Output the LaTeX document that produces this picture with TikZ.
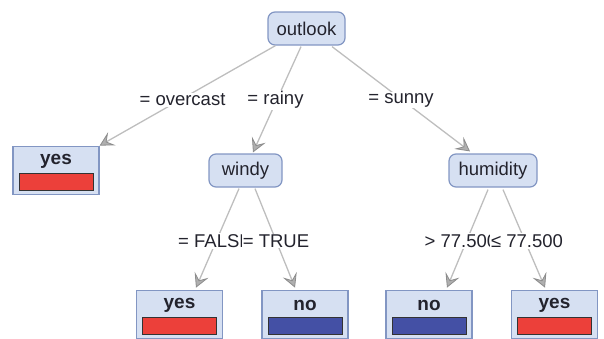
\documentclass[tikz,border=0pt]{standalone}
\usepackage{fontspec}
\setmainfont{Liberation Sans}
\usetikzlibrary{arrows.meta,calc}
\definecolor{nodefill}{RGB}{214,224,242}
\definecolor{nodedraw}{RGB}{130,150,195}
\definecolor{edgecol}{RGB}{190,190,190}
\definecolor{arrfill}{RGB}{175,175,175}
\definecolor{arrdraw}{RGB}{140,140,140}
\definecolor{barred}{RGB}{236,64,58}
\definecolor{barblue}{RGB}{68,80,165}
\definecolor{txt}{RGB}{35,35,45}
\tikzset{
  inner/.style={draw=nodedraw, fill=nodefill, line width=1.2pt, rounded corners=7pt,
    minimum height=33pt, inner sep=0pt, font=\fontsize{18.5}{20}\selectfont, text=txt},
  leaf/.style={draw=nodedraw, fill=nodefill, line width=1.2pt, minimum width=86pt,
    minimum height=48.5pt, inner sep=0pt},
  leaftxt/.style={font=\fontsize{19}{20}\selectfont\bfseries, text=txt, inner sep=0pt},
  redbar/.style={draw=black!80, fill=barred, line width=1pt, minimum width=74pt, minimum height=17pt, inner sep=0pt},
  bluebar/.style={draw=black!80, fill=barblue, line width=1pt, minimum width=74pt, minimum height=17pt, inner sep=0pt},
  edge/.style={draw=edgecol, line width=1.3pt,
    -{Stealth[length=14pt,width=15pt,inset=6pt,fill=arrfill,color=arrdraw,line width=0.8pt]}},
  elabel/.style={fill=white, inner sep=1pt, font=\fontsize{18.5}{20}\selectfont, text=txt},
}
\begin{document}
\begin{tikzpicture}[x=1pt,y=-1pt]
\useasboundingbox (0,0) rectangle (604,338);

% internal nodes
\node[inner, minimum width=77pt] (outlook) at (306.5,28.5) {outlook};
\node[inner, minimum width=73pt] (windy) at (245.5,170.5) {windy};
\node[inner, minimum width=88pt] (hum) at (493,170.5) {humidity};

% leaves
\node[leaf] (yesA) at (56,170.5) {};
\node[leaftxt] (yesAt) at ($(yesA.north)+(0,16)$) {yes};
\node[redbar] (yesAb) at ($(yesA.south)+(0,-13.5)$) {};

\node[leaf] (yesB) at (179.5,314.5) {};
\node[leaftxt] (yesBt) at ($(yesB.north)+(0,16)$) {yes};
\node[redbar] (yesBb) at ($(yesB.south)+(0,-13.5)$) {};

\node[leaf] (noB) at (305,314.5) {};
\node[leaftxt] (noBt) at ($(noB.north)+(0,16)$) {no};
\node[bluebar] (noBb) at ($(noB.south)+(0,-13.5)$) {};

\node[leaf] (noC) at (429,314.5) {};
\node[leaftxt] (noCt) at ($(noC.north)+(0,16)$) {no};
\node[bluebar] (noCb) at ($(noC.south)+(0,-13.5)$) {};

\node[leaf] (yesC) at (554.5,314.5) {};
\node[leaftxt] (yesCt) at ($(yesC.north)+(0,16)$) {yes};
\node[redbar] (yesCb) at ($(yesC.south)+(0,-13.5)$) {};

% edges
\draw[edge] ($(outlook.south)+(-31,0)$) -- (yesA.north east);
\draw[edge] ($(outlook.south)+(-5.5,1)$) -- ($(windy.north)+(7.5,-1)$);
\draw[edge] ($(outlook.south)+(25.5,1)$) -- ($(hum.north)+(-23,-2)$);
\draw[edge] ($(windy.south)+(-6.5,1)$) -- ($(yesB.north)+(16.5,-2)$);
\draw[edge] ($(windy.south)+(9.5,1)$) -- ($(noB.north)+(-10,-2)$);
\draw[edge] ($(hum.south)+(-5,2)$) -- ($(noC.north)+(18,-2)$);
\draw[edge] ($(hum.south)+(10,2)$) -- ($(yesC.north)+(-9.5,-2)$);

% edge labels
\node[elabel] (l1) at (182.5,100) {= overcast};
\node[elabel] (l2) at (275.5,100) {= rainy};
\node[elabel] (l3) at (401,100) {= sunny};
\node[elabel] (l4) at (215,241) {= FALSE};
\node[elabel] (l5) at (276,241) {= TRUE};
\node[elabel] (l6) at (461,241) {> 77.500};
\node[elabel] (l7) at (527,241) {≤ 77.500};
\end{tikzpicture}
\end{document}
